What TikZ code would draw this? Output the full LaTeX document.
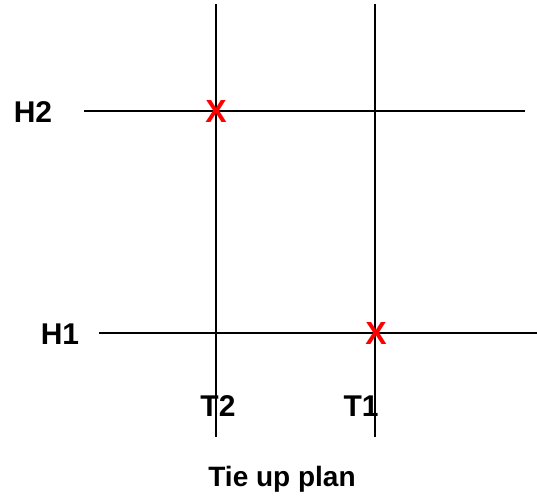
\documentclass[tikz,border=0pt]{standalone}
\usepackage{fontspec}
\setmainfont{Liberation Sans}
\usepackage{tikz}
\usetikzlibrary{positioning}

\begin{document}
\begin{tikzpicture}[
        x=1pt, y=-1pt,
        grid/.style={line width=1.6pt, black},
        lbl/.style={font=\fontsize{30}{36}\selectfont\bfseries, inner sep=0pt, anchor=base},
        tie/.style={font=\fontsize{32}{38}\selectfont\bfseries, text=red, inner sep=0pt}
    ]
    \useasboundingbox (0,0) rectangle (537,496);
    % Grid lines
    \coordinate (t2top) at (216,4);  \coordinate (t2bot) at (216,437);
    \coordinate (t1top) at (375,4);  \coordinate (t1bot) at (375,437);
    \coordinate (h2l) at (84,111);   \coordinate (h2r) at (525,111);
    \coordinate (h1l) at (99,333);   \coordinate (h1r) at (537,333);
    \draw[grid] (t2top)--(t2bot); \draw[grid] (t1top)--(t1bot);
    \draw[grid] (h2l)--(h2r); \draw[grid] (h1l)--(h1r);

    % Labels
    \node[lbl] (h2) at (33,122) {H2};
    \node[lbl] (h1) at (60,344) {H1};
    \node[lbl] (t2) at (218,416) {T2};
    \node[lbl] (t1) at (361,416) {T1};
    \node[lbl, font=\fontsize{28}{34}\selectfont\bfseries] (title) at (282,486) {Tie up plan};

    % Tie points
    \node[tie] (x2) at (216,111) {X};
    \node[tie] (x1) at (376,333) {X};
\end{tikzpicture}
\end{document}
